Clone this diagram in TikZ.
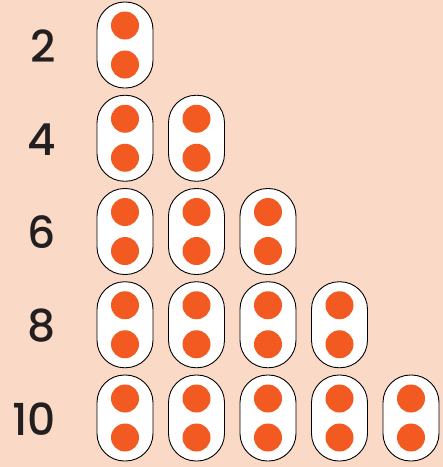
\documentclass[tikz,border=0pt]{standalone}
\usepackage{fontspec}
\setmainfont{Poppins}[UprightFont=* Medium]
\usepackage{tikz}
\definecolor{bgpeach}{RGB}{250,218,198}
\definecolor{dotorange}{RGB}{242,90,34}
\definecolor{numink}{RGB}{35,31,32}
\tikzset{
    pill/.style={rectangle, rounded corners=27.5pt, fill=white, draw=black,
        line width=0.9pt, minimum width=56pt, minimum height=86pt, inner sep=0pt},
    counter/.style={circle, fill=dotorange, minimum size=28pt, inner sep=0pt},
    rowlabel/.style={anchor=east, text=numink, inner sep=0pt,
        font=\fontsize{44}{44}\selectfont},
}
\begin{document}
\begin{tikzpicture}[x=1pt, y=-1pt]
    \fill[bgpeach] (0,0) rectangle (443,467);
    \useasboundingbox (0,0) rectangle (443,467);
    % one row per even number, one pill per pair
    \foreach \r in {1,...,5} {
        \pgfmathtruncatemacro{\total}{2*\r}
        \node (label\r) [rowlabel] at (56,{46+93.25*(\r-1)}) {\total};
        \foreach \c in {1,...,\r} {
            \node (pill\r\c) [pill] at ({125+71.5*(\c-1)},{45+93.25*(\r-1)}) {};
            \node (top\r\c) [counter] at ([yshift=19.5pt]pill\r\c.center) {};
            \node (bot\r\c) [counter] at ([yshift=-19.5pt]pill\r\c.center) {};
        }
    }
\end{tikzpicture}
\end{document}
